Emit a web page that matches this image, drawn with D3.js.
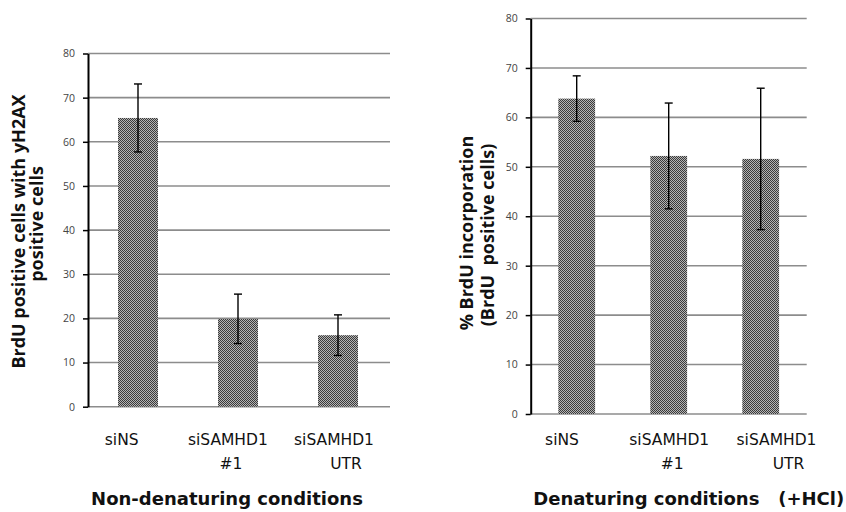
<!DOCTYPE html>
<html>
<head>
<meta charset="utf-8">
<script src="https://cdn.jsdelivr.net/npm/d3@7"></script>
<style>
  body { margin: 0; background: #fff; }
  svg { display: block; }
  text { white-space: pre; }
</style>
</head>
<body>
<svg id="chart" width="846" height="512"></svg>
<script>
// Data
const categories = ["siNS", "siSAMHD1 #1", "siSAMHD1 UTR"]
const labelLines = [["siNS"], ["siSAMHD1", "#1"], ["siSAMHD1", "UTR"]]
const yTicks = [0, 10, 20, 30, 40, 50, 60, 70, 80]

const nonDenatMeans = [65.4, 19.9, 16.2]
const nonDenatErr = [7.7, 5.6, 4.6]

const denatMeans = [63.8, 52.2, 51.6]
const denatErr = [4.6, 10.7, 14.3]

const leftYLabel = ["BrdU positive cells with yH2AX", "positive cells"]
const rightYLabel = ["% BrdU incorporation", "(BrdU  positive cells)"]
const leftTitle = "Non-denaturing conditions"
const rightTitle = "Denaturing conditions   (+HCl)"

const svg = d3.select("#chart")

// checker fill like the old excel pattern
const pat = svg.append("defs").append("pattern")
  .attr("id", "checker")
  .attr("width", 2).attr("height", 2)
  .attr("patternUnits", "userSpaceOnUse")
pat.append("rect").attr("width", 2).attr("height", 2).attr("fill", "#b4b4b4")
pat.append("rect").attr("width", 1).attr("height", 1).attr("fill", "#3a3a3a")
pat.append("rect").attr("x", 1).attr("y", 1).attr("width", 1).attr("height", 1).attr("fill", "#3a3a3a")

function drawPanel(opts) {
  let g = svg.append("g")
  let x = d3.scaleBand().domain(categories).range(opts.xRange).paddingInner(0.6).paddingOuter(0.3)
  let y = d3.scaleLinear().domain([0, 80]).range(opts.yRange)
  let lx = d3.scalePoint().domain(categories).range(opts.labelRange)

  // gridlines
  g.selectAll("line.grid")
    .data(yTicks)
    .enter()
      .append("line")
      .attr("class", "grid")
      .attr("x1", opts.xRange[0])
      .attr("x2", opts.gridEnd)
      .attr("y1", d => y(d))
      .attr("y2", d => y(d))
      .attr("stroke", "#8c8c8c")
      .attr("stroke-width", 1.6)

  // bars
  g.selectAll("rect.bar")
    .data(opts.means)
    .enter()
      .append("rect")
      .attr("class", "bar")
      .attr("x", (d, i) => x(categories[i]))
      .attr("width", x.bandwidth())
      .attr("y", d => y(d))
      .attr("height", d => y(0) - y(d))
      .attr("fill", "url(#checker)")

  // error bars
  let cx = i => x(categories[i]) + x.bandwidth() / 2
  let eb = g.selectAll("g.err")
    .data(opts.means)
    .enter()
      .append("g")
      .attr("stroke", "#000")
      .attr("stroke-width", 1.4)
  eb.append("line")
    .attr("x1", (d, i) => cx(i)).attr("x2", (d, i) => cx(i))
    .attr("y1", (d, i) => y(d + opts.err[i]))
    .attr("y2", (d, i) => y(d - opts.err[i]))
  eb.append("line")
    .attr("x1", (d, i) => cx(i) - 4).attr("x2", (d, i) => cx(i) + 4)
    .attr("y1", (d, i) => y(d + opts.err[i])).attr("y2", (d, i) => y(d + opts.err[i]))
  eb.append("line")
    .attr("x1", (d, i) => cx(i) - 4).attr("x2", (d, i) => cx(i) + 4)
    .attr("y1", (d, i) => y(d - opts.err[i])).attr("y2", (d, i) => y(d - opts.err[i]))

  // y axis
  let ax = g.append("g")
    .attr("transform", `translate(${opts.xRange[0]},0)`)
    .call(d3.axisLeft(y).tickValues(yTicks).tickSize(5).tickPadding(8).tickSizeOuter(0))
  ax.select(".domain").attr("stroke", "#000").attr("stroke-width", 2)
  ax.selectAll(".tick line").attr("stroke", "#000").attr("stroke-width", 1.5)
  ax.selectAll(".tick text")
    .attr("font-family", "Open Sans, sans-serif")
    .attr("font-size", 10.5)
    .attr("fill", "#444")

  // category labels
  let cl = g.selectAll("text.cat")
    .data(labelLines)
    .enter()
      .append("text")
      .attr("class", "cat")
      .attr("text-anchor", "middle")
      .attr("font-family", "DejaVu Sans, sans-serif")
      .attr("font-size", 15.5)
      .attr("fill", "#111")
      .attr("transform", (d, i) => `translate(${lx(categories[i])},${opts.catY})`)
  cl.selectAll("tspan")
    .data(d => d)
    .enter()
      .append("tspan")
      .attr("x", (d, j) => j === 0 ? 0 : (d === "UTR" ? 12 : 3))
      .attr("dy", (d, j) => j === 0 ? 0 : 24)
      .text(d => d)

  // y label
  opts.yLabel.forEach((t, j) => {
    g.append("text")
      .attr("transform", `translate(${opts.yLabelX[j]},${opts.yLabelY[j]}) rotate(-90)`)
      .attr("text-anchor", "middle")
      .attr("font-family", "Open Sans, sans-serif")
      .attr("font-weight", "bold")
      .attr("font-size", 18)
      .attr("fill", "#111")
      .text(t)
  })

  // title
  g.append("text")
    .attr("x", opts.titleX)
    .attr("y", 505)
    .attr("text-anchor", "middle")
    .attr("font-family", "DejaVu Sans, sans-serif")
    .attr("font-weight", "bold")
    .attr("font-size", 18)
    .attr("fill", "#111")
    .text(opts.title)
}

drawPanel({
  means: nonDenatMeans, err: nonDenatErr,
  xRange: [88, 388], gridEnd: 390, yRange: [406.7, 53.5],
  labelRange: [121.7, 334], catY: 445,
  yLabel: leftYLabel, yLabelX: [25, 43], yLabelY: [231.5, 224],
  title: leftTitle, titleX: 227
})

drawPanel({
  means: denatMeans, err: denatErr,
  xRange: [530.7, 806.7], gridEnd: 806.7, yRange: [414, 18.5],
  labelRange: [562, 776.5], catY: 445,
  yLabel: rightYLabel, yLabelX: [473, 494], yLabelY: [233, 235],
  title: rightTitle, titleX: 688.7
})
</script>
</body>
</html>
